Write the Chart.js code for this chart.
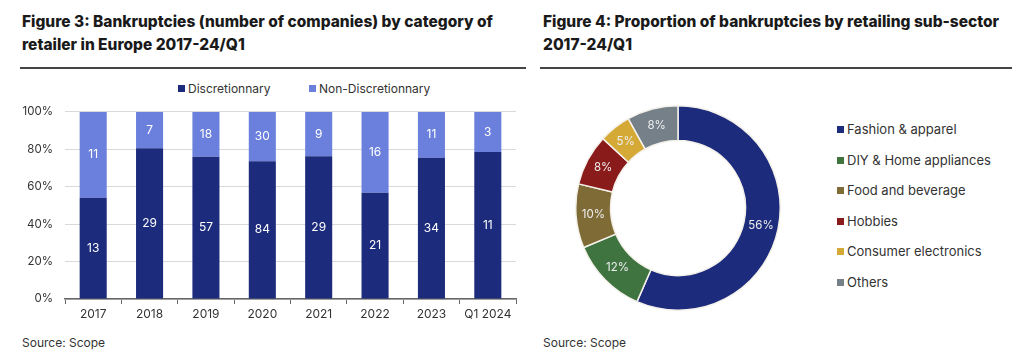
<!DOCTYPE html>
<html><head><meta charset="utf-8">
<script src="https://cdn.jsdelivr.net/npm/chart.js@4.4.1/dist/chart.umd.min.js"></script>
<style>
html,body{margin:0;padding:0;background:#fff;width:1024px;height:364px;overflow:hidden;font-family:Inter,"Noto Sans",sans-serif;}
.t{position:absolute;font-weight:800;font-size:15.5px;line-height:23px;color:#1a1a1a;}
.rule{position:absolute;height:2px;background:#444;}
.src{position:absolute;font-size:12px;color:#333;}
.lg{position:absolute;font-size:12px;color:#333;white-space:nowrap;}
.sq{display:inline-block;width:7px;height:7px;margin-right:3px;vertical-align:1px;}
.rl{position:absolute;font-size:13px;color:#333;white-space:nowrap;}
canvas{position:absolute;}
</style></head><body>
<div class="t" style="left:22px;top:10px;">Figure 3: Bankruptcies (number of companies) by category of<br>retailer in Europe 2017-24/Q1</div>
<div class="t" style="left:543px;top:10px;">Figure 4: Proportion of bankruptcies by retailing sub-sector<br>2017-24/Q1</div>
<div class="rule" style="left:20px;top:67px;width:506px;"></div>
<div class="rule" style="left:540px;top:67px;width:472px;"></div>
<div class="lg" style="left:178px;top:81px;"><span class="sq" style="background:#1c2b7b"></span>Discretionnary</div>
<div class="lg" style="left:309px;top:81px;"><span class="sq" style="background:#6b80dc"></span>Non-Discretionnary</div>
<div id="rleg"></div>
<div class="src" style="left:22px;top:335px;">Source: Scope</div>
<div class="src" style="left:543px;top:335px;">Source: Scope</div>
<canvas id="bar" style="left:10px;top:93px;width:512px;height:232px;"></canvas>
<canvas id="pie" style="left:575px;top:105px;width:206px;height:206px;"></canvas>
<script>
const categories = ["2017","2018","2019","2020","2021","2022","2023","Q1 2024"];
const discretionary = [13,29,57,84,29,21,34,11];
const nonDiscretionary = [11,7,18,30,9,16,11,3];
const yTicks = [0,20,40,60,80,100];

const sectors = ["Fashion & apparel","DIY & Home appliances","Food and beverage","Hobbies","Consumer electronics","Others"];
const sectorShares = [56,12,10,8,5,8];
const sectorColors = ["#1c2b7b","#3f7440","#7e6b36","#8a1b1b","#d4a936","#758089"];

const discShare = discretionary.map((v,i)=>v/(v+nonDiscretionary[i])*100);
const nonShare = nonDiscretionary.map((v,i)=>v/(v+discretionary[i])*100);

const FONT = "Inter, 'Noto Sans', sans-serif";

const barLabels = {
  id:'barLabels',
  afterDatasetsDraw(chart){
    const ctx = chart.ctx;
    const raw = [discretionary, nonDiscretionary];
    ctx.save();
    ctx.font = "12px " + FONT;
    ctx.fillStyle = "#ffffff";
    ctx.textAlign = "center"; ctx.textBaseline = "middle";
    chart.data.datasets.forEach((ds,di)=>{
      chart.getDatasetMeta(di).data.forEach((el,i)=>{
        const y = (el.y + el.base)/2;
        ctx.fillText(String(raw[di][i]), el.x, y);
      });
    });
    ctx.restore();
  }
};

new Chart(document.getElementById('bar'), {
  type:'bar',
  data:{labels:categories, datasets:[
    {label:'Discretionnary', data:discShare, backgroundColor:'#1c2b7b', barPercentage:0.48, categoryPercentage:1},
    {label:'Non-Discretionnary', data:nonShare, backgroundColor:'#6b80dc', barPercentage:0.48, categoryPercentage:1}
  ]},
  options:{
    responsive:false, animation:false, devicePixelRatio:1,
    layout:{padding:{left:10,right:6,top:4,bottom:0}},
    plugins:{legend:{display:false}, tooltip:{enabled:false}},
    scales:{
      x:{stacked:true,
        grid:{display:true, offset:true, drawOnChartArea:false, drawTicks:true, tickLength:5, color:'#666', lineWidth:1},
        border:{display:true, color:'#666', width:1.5},
        ticks:{color:'#333', font:{family:FONT,size:12}, padding:3},
        afterFit(a){a.height=26;}
      },
      y:{stacked:true, min:0, max:100,
        afterBuildTicks(a){a.ticks = yTicks.map(v=>({value:v}));},
        grid:{color:'#d9d9d9', drawTicks:false, lineWidth:1},
        border:{display:false},
        ticks:{color:'#333', font:{family:FONT,size:11.5}, padding:12, callback:v=>v+'%'},
        afterFit(a){a.width=45;}
      }
    }
  },
  plugins:[barLabels]
});

const pieLabels = {
  id:'pieLabels',
  afterDatasetsDraw(chart){
    const ctx = chart.ctx;
    ctx.save();
    ctx.font = "11.5px " + FONT;
    ctx.fillStyle = "#eeeeee";
    ctx.textAlign = "center"; ctx.textBaseline = "middle";
    chart.getDatasetMeta(0).data.forEach((el,i)=>{
      const p = el.getCenterPoint();
      ctx.fillText(sectorShares[i]+'%', p.x, p.y);
    });
    ctx.restore();
  }
};

new Chart(document.getElementById('pie'), {
  type:'doughnut',
  data:{labels:sectors, datasets:[{data:sectorShares, backgroundColor:sectorColors, borderColor:'#f4f1ea', borderWidth:1.5}]},
  options:{
    responsive:false, animation:false, devicePixelRatio:1,
    cutout:'66%',
    layout:{padding:0},
    plugins:{legend:{display:false}, tooltip:{enabled:false}}
  },
  plugins:[pieLabels]
});

// right legend (html)
const rleg = document.getElementById('rleg');
const legTops = [121,152,182,213,243,274];
sectors.forEach((s,i)=>{
  const d = document.createElement('div');
  d.className='rl';
  d.style.left='837px'; d.style.top=legTops[i]+'px';
  d.innerHTML='<span class="sq" style="background:'+sectorColors[i]+'"></span>'+s;
  rleg.appendChild(d);
});
</script>
</body></html>
